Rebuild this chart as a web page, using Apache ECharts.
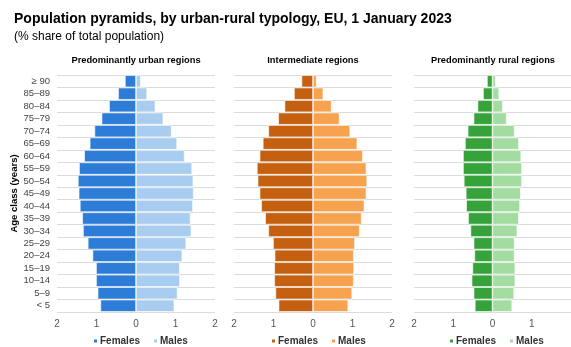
<!DOCTYPE html>
<html>
<head>
<meta charset="utf-8">
<script src="https://cdn.jsdelivr.net/npm/echarts@6/dist/echarts.min.js"></script>
<style>
  html, body { margin: 0; padding: 0; background: #fff; }
  #chart { width: 571px; height: 347px; }
</style>
</head>
<body>
<div id="chart"></div>
<script>
// Age classes, youngest first (bottom of each pyramid)
const ageClasses = ['< 5', '5–9', '10–14', '15–19', '20–24', '25–29', '30–34', '35–39', '40–44',
  '45–49', '50–54', '55–59', '60–64', '65–69', '70–74', '75–79', '80–84', '85–89', '≥ 90'];

// Share of total EU population (%), by sex and age class
const urbanFemales = [0.90, 0.97, 1.01, 1.01, 1.10, 1.22, 1.34, 1.36, 1.42, 1.45, 1.47, 1.44, 1.31, 1.17, 1.05, 0.87, 0.68, 0.45, 0.28];
const urbanMales   = [0.97, 1.05, 1.11, 1.11, 1.17, 1.27, 1.40, 1.38, 1.44, 1.46, 1.45, 1.42, 1.23, 1.04, 0.90, 0.69, 0.49, 0.28, 0.12];

const intermediateFemales = [0.87, 0.95, 0.98, 0.98, 0.97, 1.01, 1.13, 1.21, 1.31, 1.35, 1.40, 1.42, 1.35, 1.27, 1.13, 0.88, 0.72, 0.48, 0.29];
const intermediateMales   = [0.89, 0.99, 1.03, 1.04, 1.03, 1.06, 1.18, 1.23, 1.30, 1.35, 1.37, 1.35, 1.26, 1.12, 0.94, 0.67, 0.47, 0.26, 0.09];

const ruralFemales = [0.45, 0.48, 0.53, 0.51, 0.46, 0.48, 0.56, 0.62, 0.67, 0.68, 0.73, 0.75, 0.75, 0.70, 0.63, 0.48, 0.38, 0.24, 0.14];
const ruralMales   = [0.50, 0.55, 0.58, 0.58, 0.56, 0.56, 0.63, 0.67, 0.70, 0.72, 0.75, 0.75, 0.73, 0.67, 0.56, 0.36, 0.26, 0.17, 0.08];

const xTicks = [-2, -1, 0, 1, 2];

const panels = [
  { title: 'Predominantly urban regions', key: 'Urban', females: urbanFemales, males: urbanMales,
    fColor: '#2c7cd8', mColor: '#a9cdf1', left: 57, legendLeft: 92 },
  { title: 'Intermediate regions', key: 'Intermediate', females: intermediateFemales, males: intermediateMales,
    fColor: '#c4600f', mColor: '#f6a24f', left: 234, legendLeft: 270 },
  { title: 'Predominantly rural regions', key: 'Rural', females: ruralFemales, males: ruralMales,
    fColor: '#36a23a', mColor: '#a3dca0', left: 414, legendLeft: 448 }
];

const FONT = '"Liberation Sans", Arial, sans-serif';
const PANEL_W = 158;

const option = {
  animation: false,
  backgroundColor: '#fff',
  title: [{
    text: 'Population pyramids, by urban-rural typology, EU, 1 January 2023',
    subtext: '(% share of total population)',
    left: 14, top: 12, itemGap: 5, padding: 0,
    textStyle: { fontFamily: FONT, fontSize: 14, fontWeight: 'bold', color: '#000' },
    subtextStyle: { fontFamily: FONT, fontSize: 12, color: '#000' }
  }],
  grid: [], xAxis: [], yAxis: [], series: [], legend: []
};

panels.forEach((p, i) => {
  option.title.push({
    text: p.title,
    left: p.left + PANEL_W / 2, top: 56, textAlign: 'center', padding: 0,
    textStyle: { fontFamily: FONT, fontSize: 9.3, fontWeight: 'bold', color: '#000' }
  });
  option.grid.push({ left: p.left, width: PANEL_W, top: 75, height: 237 });
  option.xAxis.push({
    type: 'value', gridIndex: i, min: xTicks[0], max: xTicks[xTicks.length - 1], interval: 1,
    axisLine: { show: false }, axisTick: { show: false }, splitLine: { show: false },
    axisLabel: { fontFamily: FONT, fontSize: 10, color: '#555', margin: 7,
      showMaxLabel: i < 2,
      formatter: v => String(Math.abs(v)) }
  });
  option.yAxis.push({
    type: 'category', gridIndex: i, data: ageClasses,
    axisLine: { show: false }, axisTick: { show: false },
    splitLine: { show: true, interval: 0, lineStyle: { color: '#dcdcdc', width: 1 } },
    axisLabel: { show: i === 0, interval: 0, fontFamily: FONT, fontSize: 9.5, color: '#444', margin: 7 },
    name: i === 0 ? 'Age class (years)' : '',
    nameLocation: 'middle', nameRotate: 90, nameGap: 37,
    nameTextStyle: { fontFamily: FONT, fontSize: 9.5, fontWeight: 'bold', color: '#000' }
  });
  const barStyle = c => ({ color: c, borderColor: '#fff', borderWidth: 0.6 });
  option.series.push({
    name: p.key + ' Females', type: 'bar', stack: 'pyr' + i,
    xAxisIndex: i, yAxisIndex: i, barCategoryGap: '3%',
    itemStyle: barStyle(p.fColor),
    data: p.females.map(v => -v)
  });
  option.series.push({
    name: p.key + ' Males', type: 'bar', stack: 'pyr' + i,
    xAxisIndex: i, yAxisIndex: i, barCategoryGap: '3%',
    itemStyle: barStyle(p.mColor),
    data: p.males
  });
  option.legend.push({
    data: [p.key + ' Females', p.key + ' Males'],
    left: p.legendLeft, top: 336, padding: 0, icon: 'rect', itemWidth: 5, itemHeight: 5, itemGap: 12,
    formatter: name => name.split(' ').pop(),
    textStyle: { fontFamily: FONT, fontSize: 10, fontWeight: 'bold', color: '#333', padding: [0, 0, 0, -3] }
  });
});

const chart = echarts.init(document.getElementById('chart'), null, { renderer: 'canvas' });
chart.setOption(option);
</script>
</body>
</html>
